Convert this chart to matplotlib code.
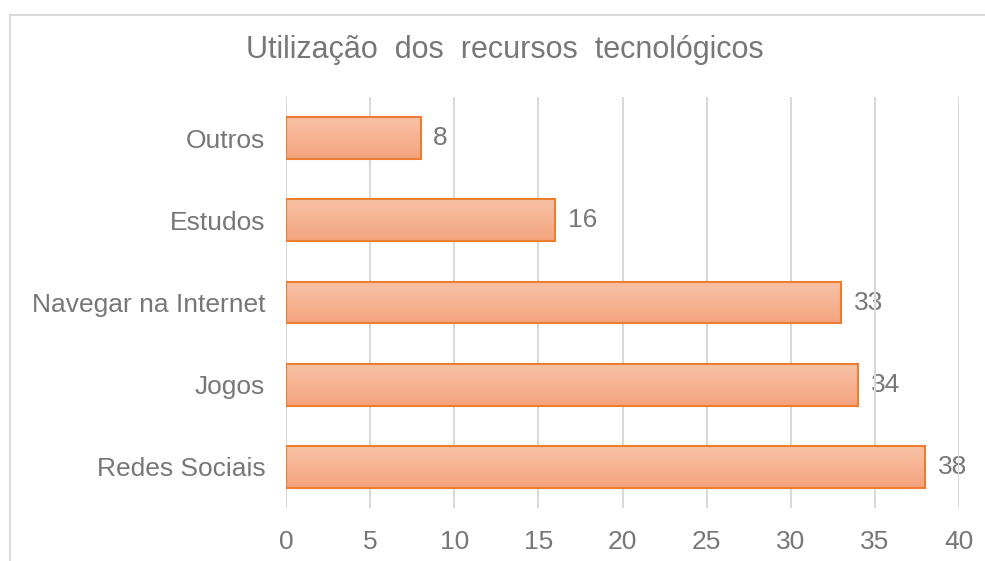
import matplotlib.pyplot as plt
import numpy as np
from matplotlib.colors import LinearSegmentedColormap

categories = ['Redes Sociais', 'Jogos', 'Navegar na Internet', 'Estudos', 'Outros']
values = [38, 34, 33, 16, 8]
xticks = [0, 5, 10, 15, 20, 25, 30, 35, 40]

gray = '#777777'
plt.rcParams['font.family'] = ['Liberation Sans', 'DejaVu Sans']

fig = plt.figure(figsize=(9.85, 5.61), dpi=100)
ax = fig.add_axes([286 / 985, 1 - 508 / 561, (959 - 286) / 985, (508 - 97) / 561])

# outer chart border (top and left only visible)
fig.add_artist(plt.Line2D([10 / 985, 1], [1 - 15 / 561, 1 - 15 / 561], color='#D9D9D9', lw=1.5))
fig.add_artist(plt.Line2D([10 / 985, 10 / 985], [1 - 15 / 561, 0], color='#D9D9D9', lw=1.5))

grad = LinearSegmentedColormap.from_list('g', ['#F4A47E', '#F8C2A6'])
ypos = np.arange(len(categories))
h = 0.51
bars = ax.barh(ypos, values, height=h, color='none', edgecolor='#ED7D31', linewidth=1.5, zorder=3)
for b in bars:
    x0, y0 = b.get_x(), b.get_y()
    img = ax.imshow(np.linspace(0, 1, 64).reshape(-1, 1), cmap=grad, aspect='auto',
                    extent=[x0, x0 + b.get_width(), y0, y0 + b.get_height()],
                    origin='lower', zorder=2)
    img.set_clip_path(b)

for y, v in zip(ypos, values):
    ax.text(v + 0.75, y, str(v), va='center', ha='left', fontsize=19, color=gray, zorder=1)

ax.set_xlim(0, 40)
ax.set_ylim(-0.5, len(categories) - 0.5)
ax.set_xticks(xticks)
ax.set_yticks(ypos)
ax.set_yticklabels(categories)
ax.tick_params(axis='both', length=0, labelsize=19, colors=gray)
ax.tick_params(axis='y', pad=15)
ax.tick_params(axis='x', pad=16)
ax.grid(axis='x', color='#D9D9D9', lw=1.5, zorder=1.5)
for s in ax.spines.values():
    s.set_visible(False)

fig.text(505 / 985, 1 - 50 / 561, 'Utilização  dos  recursos  tecnológicos', ha='center', va='center',
         fontsize=22, color=gray)

fig.savefig('out.png', dpi=100)
